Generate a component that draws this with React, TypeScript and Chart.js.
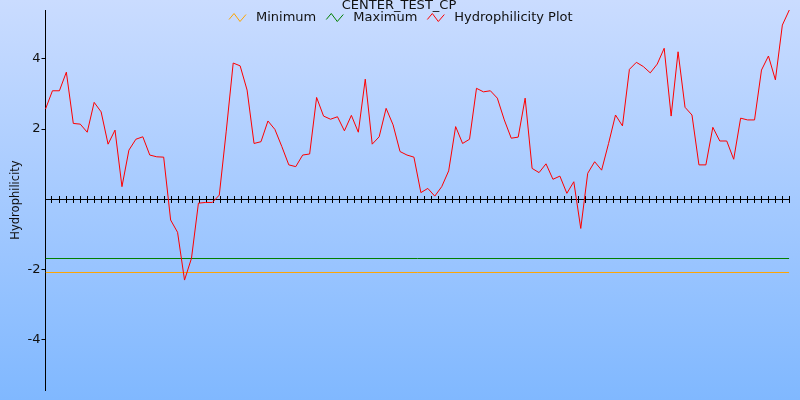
import React, { useEffect, useRef } from "react";
import { Chart, registerables } from "chart.js";

Chart.register(...registerables);

const chartTitle = "CENTER_TEST_CP";
const yAxisTitle = "Hydrophilicity";
const seriesNames = ["Minimum", "Maximum", "Hydrophilicity Plot"];
const seriesColors = ["#ffa500", "#008000", "#ff0000"];

const hydrophilicity = [
  2.57, 3.09, 3.09, 3.62, 2.16, 2.14, 1.91, 2.76, 2.49, 1.57,
  1.97, 0.36, 1.40, 1.71, 1.78, 1.26, 1.21, 1.20, -0.59, -0.94,
  -2.30, -1.68, -0.11, -0.09, -0.09, 0.12, 1.94, 3.88, 3.80, 3.11,
  1.59, 1.64, 2.23, 1.99, 1.50, 0.98, 0.93, 1.26, 1.29, 2.90,
  2.37, 2.28, 2.35, 1.95, 2.39, 1.91, 3.42, 1.57, 1.78, 2.59,
  2.12, 1.36, 1.26, 1.20, 0.19, 0.31, 0.09, 0.36, 0.81, 2.07,
  1.59, 1.71, 3.16, 3.06, 3.09, 2.88, 2.26, 1.74, 1.77, 2.88,
  0.88, 0.76, 1.01, 0.57, 0.66, 0.17, 0.50, -0.83, 0.74, 1.07,
  0.83, 1.59, 2.40, 2.09, 3.70, 3.90, 3.78, 3.60, 3.85, 4.30,
  2.37, 4.20, 2.62, 2.40, 0.98, 0.98, 2.05, 1.66, 1.66, 1.14,
  2.31, 2.26, 2.26, 3.68, 4.08, 3.40, 4.96, 5.39,
];

const minimumValue = -2.084;
const maximumValue = -1.686;

const yTickValues = [-4, -2, 2, 4];
const yMin = -5.43;
const yMax = 5.39;

// tick marks along the zero axis (no labels)
const xTickCount = 106;
const xTickFirst = 0.863;
const xTickStep = 1.0105;

const FONT = "'DejaVu Sans', sans-serif";

const backgroundPlugin = {
  id: "bgGradient",
  beforeDraw(chart: any) {
    const { ctx, width, height } = chart;
    const g = ctx.createLinearGradient(0, 0, 0, height);
    g.addColorStop(0, "#cadcff");
    g.addColorStop(1, "#80b8ff");
    ctx.save();
    ctx.fillStyle = g;
    ctx.fillRect(0, 0, width, height);
    ctx.restore();
  },
};

const zeroAxisPlugin = {
  id: "zeroAxis",
  beforeDatasetsDraw(chart: any) {
    const { ctx, chartArea } = chart;
    const xs = chart.scales.x;
    const ys = chart.scales.y;
    const y0 = Math.round(ys.getPixelForValue(0)) + 0.5;
    ctx.save();
    ctx.strokeStyle = "#000";
    ctx.lineWidth = 1;
    ctx.beginPath();
    ctx.moveTo(chartArea.left, y0);
    ctx.lineTo(chartArea.right, y0);
    for (let i = 0; i < xTickCount; i++) {
      const v = xTickFirst + i * xTickStep;
      const px = Math.round(xs.getPixelForValue(v)) + 0.5;
      ctx.moveTo(px, y0 - 3.5);
      ctx.lineTo(px, y0 + 3.5);
    }
    ctx.stroke();
    ctx.restore();
  },
};

function drawZigzag(ctx: CanvasRenderingContext2D, x: number, cy: number, color: string) {
  ctx.save();
  ctx.strokeStyle = color;
  ctx.lineWidth = 1;
  ctx.beginPath();
  ctx.moveTo(x, cy + 2);
  ctx.lineTo(x + 5, cy - 4);
  ctx.lineTo(x + 11, cy + 4);
  ctx.lineTo(x + 17, cy - 3);
  ctx.stroke();
  ctx.restore();
}

const titleLegendPlugin = {
  id: "titleLegend",
  afterDraw(chart: any) {
    const { ctx } = chart;
    ctx.save();
    ctx.font = `13px ${FONT}`;
    ctx.fillStyle = "#111";
    ctx.textBaseline = "middle";
    ctx.textAlign = "center";
    ctx.fillText(chartTitle, 399, 6);

    ctx.textAlign = "left";
    const iconW = 17;
    const gap = 10;
    const widths = seriesNames.map((n) => ctx.measureText(n).width);
    const total =
      widths.reduce((a, w) => a + iconW + gap + w, 0) + gap * (seriesNames.length - 1);
    let x = 400.8 - total / 2;
    const cy = 17.5;
    seriesNames.forEach((name, i) => {
      drawZigzag(ctx, x, cy, seriesColors[i]);
      x += iconW + gap;
      ctx.fillStyle = "#111";
      ctx.fillText(name, x, cy);
      x += widths[i] + gap;
    });
    ctx.restore();
  },
};

export default function App() {
  const canvasRef = useRef<HTMLCanvasElement | null>(null);

  useEffect(() => {
    document.body.style.margin = "0";
    const canvas = canvasRef.current;
    if (!canvas) return;
    const lastX = hydrophilicity.length - 1;
    const chart = new Chart(canvas, {
      type: "line",
      data: {
        datasets: [
          {
            label: seriesNames[2],
            data: hydrophilicity.map((v, i) => ({ x: i, y: v })),
            borderColor: seriesColors[2],
            borderWidth: 1,
            pointRadius: 0,
            tension: 0,
            fill: false,
            order: 0,
            clip: false as any,
          },
          {
            label: seriesNames[1],
            data: [
              { x: 0, y: maximumValue },
              { x: lastX, y: maximumValue },
            ],
            borderColor: seriesColors[1],
            borderWidth: 1,
            pointRadius: 0,
            fill: false,
            order: 1,
          },
          {
            label: seriesNames[0],
            data: [
              { x: 0, y: minimumValue },
              { x: lastX, y: minimumValue },
            ],
            borderColor: seriesColors[0],
            borderWidth: 1,
            pointRadius: 0,
            fill: false,
            order: 2,
          },
        ],
      },
      options: {
        responsive: false,
        animation: false,
        devicePixelRatio: 1,
        layout: { padding: { top: 10, bottom: 10, left: 0, right: 10.7 } },
        plugins: {
          legend: { display: false },
          title: { display: false },
          tooltip: { enabled: false },
        },
        scales: {
          x: {
            type: "linear",
            min: 0,
            max: lastX,
            display: false,
          },
          y: {
            type: "linear",
            min: yMin,
            max: yMax,
            afterBuildTicks: (scale: any) => {
              scale.ticks = yTickValues.map((v) => ({ value: v }));
            },
            afterFit: (scale: any) => {
              scale.width = 45.5;
            },
            grid: {
              drawOnChartArea: false,
              drawTicks: true,
              tickLength: 4,
              color: "#000",
            },
            border: { display: true, color: "#000", width: 1 },
            ticks: {
              padding: 1,
              color: "#111",
              font: { family: FONT, size: 13 },
            },
            title: {
              display: true,
              text: yAxisTitle,
              color: "#111",
              font: { family: FONT, size: 11.5 },
              padding: { top: 9, bottom: 0 },
            },
          },
        },
      },
      plugins: [backgroundPlugin, zeroAxisPlugin, titleLegendPlugin],
    });
    return () => chart.destroy();
  }, []);

  return <canvas ref={canvasRef} width={800} height={400} style={{ display: "block" }} />;
}
